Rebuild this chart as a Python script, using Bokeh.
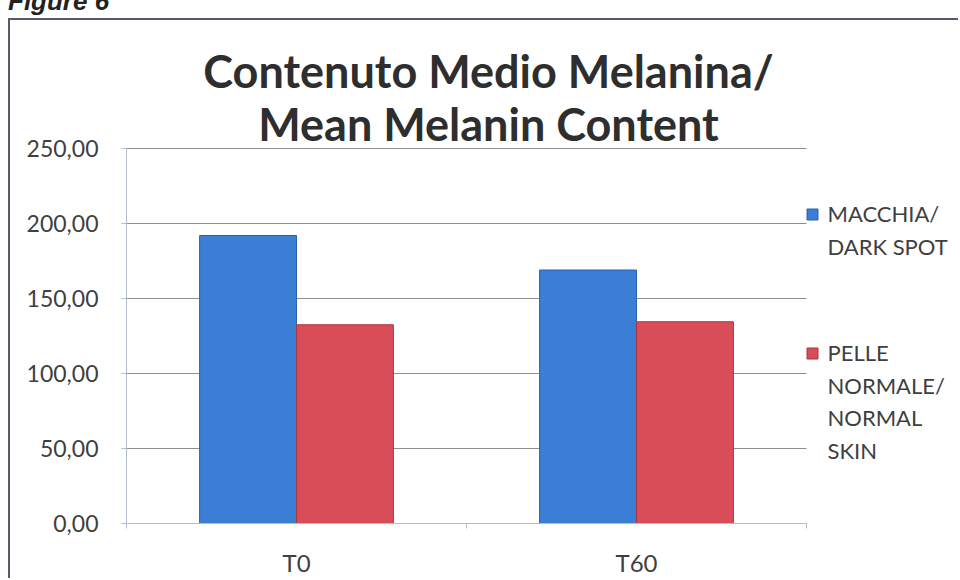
from bokeh.plotting import figure
from bokeh.models import (ColumnDataSource, Range1d, Label, FixedTicker, Div)
from bokeh.core.properties import value
from bokeh.layouts import column
from bokeh.embed import file_html
from bokeh.resources import INLINE

# ---- data ----
categories = ["T0", "T60"]
macchia = [192.0, 169.0]
pelle = [132.5, 134.5]
series_labels = ["MACCHIA/\nDARK SPOT", "PELLE\nNORMALE/\nNORMAL\nSKIN"]
series_colors = ["#3a7ed6", "#d94d59"]
y_ticks = [0, 50, 100, 150, 200, 250]
y_tick_labels = {t: f"{t:.2f}".replace(".", ",") for t in y_ticks}
title_lines = ["Contenuto Medio Melanina/", "Mean Melanin Content"]
fig_caption = "Figure 6"

# ---- layout constants (page pixels) ----
CAP_H = 18
OX, OY = 10, CAP_H + 2        # plot canvas origin on the page (after the 2px box line)
PW, PH = 950, 580 - OY
FL, FB, FT = 126, 523, 148    # left edge, zero line and 250-line on the page
CAT_PX = 340                  # pixels per category
YMAX = 250
PX_PER_UNIT = (FB - FT) / YMAX
FONT = "Lato"
TXT = "#3f3f3f"
BOX = "#5a5a66"

def dx(px):
    return (px - FL) / CAT_PX

def dy(py):
    return (FB - py) / PX_PER_UNIT

n = len(categories)
xc = [i + 0.5 for i in range(n)]
bw = 0.285
src = ColumnDataSource(dict(xb=[x - bw / 2 for x in xc], xr=[x + bw / 2 for x in xc],
                            macchia=macchia, pelle=pelle))

p = figure(width=PW, height=PH,
           x_range=Range1d(0, dx(OX + PW)), y_range=Range1d(0, dy(OY)),
           output_backend="svg", toolbar_location=None,
           min_border_left=FL - OX, min_border_right=0, min_border_top=0,
           min_border_bottom=OY + PH - FB, title=None,
           styles={"border-left": f"2px solid {BOX}", "border-top": f"2px solid {BOX}",
                   "margin-left": "8px"})
p.outline_line_color = None
p.background_fill_color = "white"
p.border_fill_color = "white"
p.xgrid.grid_line_color = None
p.ygrid.grid_line_color = None

# gridlines (from the y ticks, across the category span)
p.segment(x0=[0] * (len(y_ticks) - 1), x1=[n] * (len(y_ticks) - 1),
          y0=y_ticks[1:], y1=y_ticks[1:], line_color="#8f8f8f", line_width=1)

p.vbar(x="xb", top="macchia", width=bw, source=src,
       fill_color=series_colors[0], line_color="#2b62b0", line_width=1)
p.vbar(x="xr", top="pelle", width=bw, source=src,
       fill_color=series_colors[1], line_color="#a8363f", line_width=1)

# axes
p.yaxis.bounds = (0, YMAX)
p.yaxis.ticker = FixedTicker(ticks=y_ticks)
p.yaxis.major_label_overrides = y_tick_labels
p.yaxis.axis_line_color = "#b4bccb"
p.yaxis.major_tick_line_color = "#b4bccb"
p.yaxis.major_tick_out = 5
p.yaxis.major_tick_in = 0
p.yaxis.minor_tick_line_color = None
p.yaxis.major_label_standoff = 23
p.yaxis.major_label_text_font = FONT
p.yaxis.major_label_text_font_size = "23px"
p.yaxis.major_label_text_color = TXT

p.xaxis.bounds = (0, n)
p.xaxis.ticker = FixedTicker(ticks=xc, minor_ticks=list(range(n + 1)))
p.xaxis.major_label_overrides = {x: c for x, c in zip(xc, categories)}
p.xaxis.axis_line_color = "#b4bccb"
p.xaxis.major_tick_line_color = None
p.xaxis.major_tick_out = 0
p.xaxis.major_tick_in = 0
p.xaxis.minor_tick_line_color = "#b4bccb"
p.xaxis.minor_tick_out = 5
p.xaxis.minor_tick_in = 0
p.xaxis.major_label_standoff = 19
p.xaxis.major_label_text_font = FONT
p.xaxis.major_label_text_font_size = "24px"
p.xaxis.major_label_text_color = TXT

# title
for i, line in enumerate(title_lines):
    p.add_layout(Label(x=dx(488), y=dy(70 + i * 53), text=line, text_align="center",
                       text_baseline="middle", text_font=FONT, text_font_style="bold",
                       text_font_size="45px", text_color="#2e2e2e"))

# legend (square marker + wrapped label, one line per text row)
leg_top = [213, 352]
line_step = 32.5
sq_x, sq_y, lab_x, lab_y, lab_t = [], [], [], [], []
for lab, top in zip(series_labels, leg_top):
    sq_x.append(dx(812)); sq_y.append(dy(top + 1))
    for j, ln in enumerate(lab.split("\n")):
        lab_x.append(dx(827)); lab_y.append(dy(top + j * line_step)); lab_t.append(ln)
p.scatter(x=sq_x, y=sq_y, marker="square", size=11, fill_color=series_colors,
          line_color=["#2b62b0", "#a8363f"])
p.text(x=lab_x, y=lab_y, text=lab_t, text_font=value(FONT), text_font_size="22px",
       text_color=TXT, text_baseline="middle", text_align="left")

cap = Div(text=f'<span style="position:relative; top:-12px">{fig_caption}</span>',
          width=952, height=CAP_H, margin=(0, 0, 0, 8),
          styles={"font-family": "Liberation Sans", "font-weight": "bold",
                  "font-style": "italic", "font-size": "26px", "line-height": "26px",
                  "color": "#222222", "overflow": "visible"})

layout = column(cap, p, spacing=0)
open("out.html", "w").write(file_html(layout, INLINE))
